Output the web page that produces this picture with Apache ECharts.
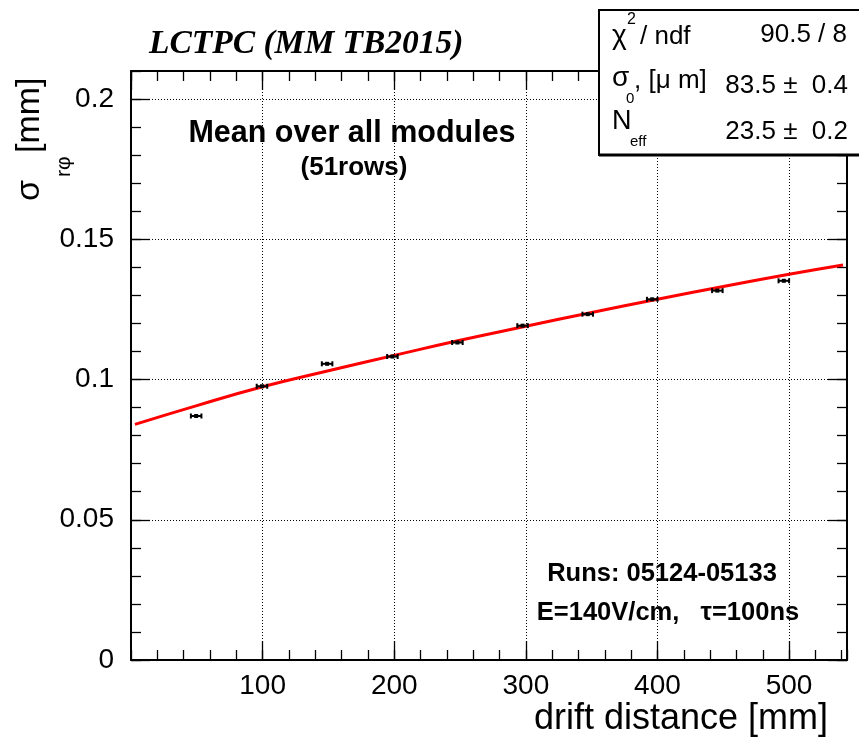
<!DOCTYPE html>
<html>
<head>
<meta charset="utf-8">
<script src="https://cdn.jsdelivr.net/npm/echarts@6/dist/echarts.min.js"></script>
<style>
html, body { margin: 0; padding: 0; background: #fff; }
#main { width: 859px; height: 741px; }
</style>
</head>
<body>
<div id="main"></div>
<script>
// measured points (drift distance in mm, resolution in mm)
var distX = [49.5, 99.5, 149, 198.6, 248, 297.5, 347, 396, 445.5, 496];
var sigmaY = [0.0870, 0.0976, 0.1056, 0.1082, 0.1132, 0.1192, 0.1233, 0.1286, 0.1317, 0.1352];
var distErr = [4, 4, 4, 4, 4, 4, 4, 4, 4, 4];

// fit curve
var fitX = [3, 50, 100, 150, 200, 250, 300, 350, 400, 450, 500, 541];
var fitY = [0.0840, 0.0907, 0.0974, 0.1031, 0.1086, 0.1140, 0.1190, 0.1239, 0.1286, 0.1332, 0.1375, 0.1408];

// stats box
var statNames = ['χ', 'σ', 'N'];
var statValues = ['90.5 / 8', '83.5 ±  0.4', '23.5 ±  0.2'];

var FONT = "'Liberation Sans', Arial, Helvetica, sans-serif";

var pts = [];
for (var i = 0; i < distX.length; i++) pts.push([distX[i], sigmaY[i], distErr[i]]);
var fitData = [];
for (var i = 0; i < fitX.length; i++) fitData.push([fitX[i], fitY[i]]);

// text placed by its baseline
function txt(str, x, base, size, opt) {
    opt = opt || {};
    return {
        type: 'text', z: 100,
        x: x, y: base - size * 0.35,
        style: {
            text: str,
            font: (opt.style || 'normal') + ' ' + (opt.weight || 'normal') + ' ' + size + 'px ' + (opt.family || FONT),
            fill: '#000',
            align: opt.align || 'left',
            verticalAlign: 'middle'
        }
    };
}

function majorAxis(pos, interval, min, max, labels) {
    return {
        type: 'value', position: pos, min: min, max: max, interval: interval,
        axisLine: { show: true, onZero: false, lineStyle: { color: '#000', width: 2 } },
        axisTick: { show: true, inside: true, length: 19, lineStyle: { color: '#000', width: 1.3 } },
        axisLabel: {
            show: labels, color: '#000', fontSize: 28, fontFamily: FONT,
            margin: (pos === 'left') ? 17 : 12, showMinLabel: pos === 'left', showMaxLabel: false
        },
        splitLine: { show: labels, lineStyle: { color: '#000', width: 1, type: [1, 2] } }
    };
}

function minorAxis(pos, interval, min, max) {
    return {
        type: 'value', position: pos, min: min, max: max, interval: interval,
        axisLine: { show: false, onZero: false },
        axisTick: { show: true, inside: true, length: 10, lineStyle: { color: '#000', width: 1.3 } },
        axisLabel: { show: false },
        splitLine: { show: false }
    };
}

var chart = echarts.init(document.getElementById('main'));

var option = {
    backgroundColor: '#fff',
    animation: false,
    grid: { left: 131, right: 12, top: 71, bottom: 81, containLabel: false },
    xAxis: [
        majorAxis('bottom', 100, 0, 544, true),
        majorAxis('top', 100, 0, 544, false),
        minorAxis('bottom', 20, 0, 544),
        minorAxis('top', 20, 0, 544)
    ],
    yAxis: [
        majorAxis('left', 0.05, 0, 0.21, true),
        majorAxis('right', 0.05, 0, 0.21, false),
        minorAxis('left', 0.01, 0, 0.21),
        minorAxis('right', 0.01, 0, 0.21)
    ],
    series: [
        {
            type: 'line', data: fitData, smooth: true, showSymbol: false,
            lineStyle: { color: '#ff0000', width: 3 }, z: 3
        },
        {
            type: 'custom', data: pts, z: 4,
            renderItem: function (params, api) {
                var x = api.value(0), y = api.value(1), ex = api.value(2);
                var c = api.coord([x, y]);
                var l = api.coord([x - ex, y]);
                var r = api.coord([x + ex, y]);
                var s = { stroke: '#000', lineWidth: 2 };
                return {
                    type: 'group',
                    children: [
                        { type: 'line', shape: { x1: l[0], y1: c[1], x2: r[0], y2: c[1] }, style: s },
                        { type: 'line', shape: { x1: l[0], y1: c[1] - 2.5, x2: l[0], y2: c[1] + 2.5 }, style: s },
                        { type: 'line', shape: { x1: r[0], y1: c[1] - 2.5, x2: r[0], y2: c[1] + 2.5 }, style: s },
                        { type: 'rect', shape: { x: c[0] - 2, y: c[1] - 2, width: 4, height: 4 }, style: { fill: '#000' } }
                    ]
                };
            }
        }
    ],
    graphic: [
        txt('LCTPC (MM TB2015)', 149, 56, 33.5, { style: 'italic', weight: 'bold', family: "'Liberation Serif', 'Times New Roman', serif" }),
        txt('Mean over all modules', 352, 144, 30.5, { weight: 'bold', align: 'center' }),
        txt('(51rows)', 354, 177, 26, { weight: 'bold', align: 'center' }),
        txt('Runs: 05124-05133', 662, 583, 25.5, { weight: 'bold', align: 'center' }),
        txt('E=140V/cm,   τ=100ns', 668, 622, 25.5, { weight: 'bold', align: 'center' }),
        txt('drift distance [mm]', 828, 732, 36, { align: 'right' }),
        {
            type: 'group', x: 30, y: 201, rotation: Math.PI / 2, z: 100,
            children: [
                { type: 'text', x: 0, y: 0, style: { text: 'σ', font: '34px ' + FONT, fill: '#000', align: 'left', verticalAlign: 'middle' } },
                { type: 'text', x: 24, y: 34, style: { text: 'rφ', font: '21px ' + FONT, fill: '#000', align: 'left', verticalAlign: 'middle' } },
                { type: 'text', x: 48, y: 0, style: { text: '[mm]', font: '34px ' + FONT, fill: '#000', align: 'left', verticalAlign: 'middle' } }
            ]
        },
        // stats box
        {
            type: 'rect', z: 90,
            shape: { x: 599, y: 10, width: 262, height: 145 },
            style: { fill: '#fff', stroke: '#000', lineWidth: 2 }
        },
        { type: 'line', z: 91, shape: { x1: 599, y1: 155, x2: 859, y2: 155 }, style: { stroke: '#000', lineWidth: 3 } },
        txt(statNames[0], 612, 46, 28),
        txt('2', 627, 25, 16),
        txt('/ ndf', 640, 46, 26),
        txt(statValues[0], 847, 44, 26, { align: 'right' }),
        txt(statNames[1], 612, 88, 28),
        txt('0', 626, 104, 15),
        txt(', [μ m]', 634, 90, 26),
        txt(statValues[1], 848, 95, 26, { align: 'right' }),
        txt(statNames[2], 612, 131, 27),
        txt('eff', 630, 147, 15),
        txt(statValues[2], 848, 141, 26, { align: 'right' })
    ]
};

chart.setOption(option);
</script>
</body>
</html>
